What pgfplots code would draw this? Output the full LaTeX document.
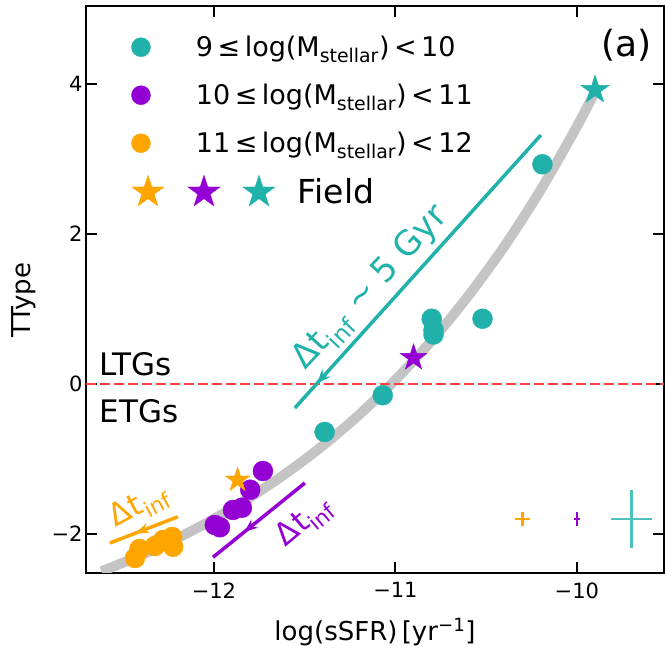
\documentclass[border=0pt]{standalone}
\usepackage{fontspec}
\setmainfont{DejaVu Sans}
\usepackage{pgfplots}
\pgfplotsset{compat=1.18}
\usetikzlibrary{decorations.markings,arrows.meta}

\definecolor{tealc}{HTML}{20B2AA}
\definecolor{purplec}{HTML}{9400D3}
\definecolor{orangec}{HTML}{FFA500}
\definecolor{curvegray}{HTML}{C4C4C4}
\definecolor{redline}{HTML}{FF4040}

% filled five-point star
\pgfdeclareplotmark{fstar}{%
  \pgfpathmoveto{\pgfpointpolar{90}{\pgfplotmarksize}}%
  \pgfpathlineto{\pgfpointpolar{126}{0.382\pgfplotmarksize}}%
  \pgfpathlineto{\pgfpointpolar{162}{\pgfplotmarksize}}%
  \pgfpathlineto{\pgfpointpolar{198}{0.382\pgfplotmarksize}}%
  \pgfpathlineto{\pgfpointpolar{234}{\pgfplotmarksize}}%
  \pgfpathlineto{\pgfpointpolar{270}{0.382\pgfplotmarksize}}%
  \pgfpathlineto{\pgfpointpolar{306}{\pgfplotmarksize}}%
  \pgfpathlineto{\pgfpointpolar{342}{0.382\pgfplotmarksize}}%
  \pgfpathlineto{\pgfpointpolar{18}{\pgfplotmarksize}}%
  \pgfpathlineto{\pgfpointpolar{54}{0.382\pgfplotmarksize}}%
  \pgfpathclose
  \pgfusepathqfillstroke}

\newcommand\legstar[2]{% x offset, colour
  \begin{scope}[shift={(#1,0pt)}]\color{#2}\pgfsetlinewidth{0.4pt}%
  \pgfsetplotmarksize{17pt}\pgfuseplotmark{fstar}\end{scope}}

\tikzset{
  arrowmid/.style 2 args={postaction={decorate}, decoration={markings,
      mark=at position #1 with {\arrow{Stealth[length=#2, width=0.8*#2]}}}},
}

\begin{document}
\begin{tikzpicture}
\path[use as bounding box] (0,0) rectangle (665pt,648pt);
\begin{axis}[
  at={(86pt,75pt)}, anchor=south west,
  width=578pt, height=567pt, scale only axis,
  xmin=-12.705, xmax=-9.52, ymin=-2.52, ymax=5.04,
  xtick={-12,-11,-10}, xticklabels={−12,−11,−10},
  ytick={-2,0,2,4}, yticklabels={−2,0,2,4},
  tick align=inside, major tick length=11pt,
  every tick/.style={black, line width=2pt},
  axis line style={line width=2.5pt},
  tick label style={font=\fontsize{21}{21}\selectfont},
  xticklabel style={yshift=-6pt},
  label style={font=\fontsize{26}{26}\selectfont},
  xlabel={log(sSFR)\,[yr\textsuperscript{−1}]},
  ylabel={TType},
  xlabel style={at={(axis description cs:0.5,-0.104)}, anchor=center},
  ylabel style={at={(axis description cs:-0.108,0.481)}, anchor=center},
  every mark/.append style={line width=0.4pt},
  legend cell align=left,
  legend style={at={(axis description cs:0.078,0.970)}, anchor=north west,
    draw=none, fill=none, inner sep=0pt, row sep=0pt,
    nodes={inner sep=0pt}, font=\fontsize{27}{27}\selectfont},
]
% legend entries
\addlegendimage{legend image code/.code={\fill[tealc] (0pt,0pt) circle (9.5pt);
  \path[draw=none,fill=none] (-9.5pt,-24pt) rectangle (55pt,24pt);}}
\addlegendentry{9\,≤\,log(M\textsubscript{stellar})\,<\,10}
\addlegendimage{legend image code/.code={\fill[purplec] (0pt,0pt) circle (9.5pt);
  \path[draw=none,fill=none] (-9.5pt,-24pt) rectangle (55pt,24pt);}}
\addlegendentry{10\,≤\,log(M\textsubscript{stellar})\,<\,11}
\addlegendimage{legend image code/.code={\fill[orangec] (0pt,0pt) circle (9.5pt);
  \path[draw=none,fill=none] (-9.5pt,-24pt) rectangle (55pt,24pt);}}
\addlegendentry{11\,≤\,log(M\textsubscript{stellar})\,<\,12}
\addlegendimage{legend image code/.code={\path[draw=none,fill=none] (-9.5pt,-25pt) rectangle (55pt,25pt);
  \begin{scope}[overlay]\legstar{7pt}{orangec}\legstar{63pt}{purplec}\legstar{118pt}{tealc}\end{scope}}}
\addlegendentry{\fontsize{33}{33}\selectfont\hspace*{102pt}Field}

% gray relation
\addplot[curvegray, line width=10pt, smooth, forget plot] coordinates {
  (-12.62,-2.499) (-12.4,-2.280) (-12.2,-2.054) (-12.0,-1.799) (-11.8,-1.511)
  (-11.6,-1.187) (-11.4,-0.822) (-11.2,-0.410) (-11.0,0.055) (-10.8,0.579)
  (-10.6,1.170) (-10.4,1.835) (-10.2,2.586) (-10.0,3.433) (-9.88,3.992)};

% LTG / ETG divide
\addplot[redline, line width=2.2pt, dash pattern=on 10pt off 4pt, forget plot]
  coordinates {(-12.705,0) (-9.52,0)};

% arrows
\addplot[tealc, line width=3.5pt, arrowmid={0.91}{14pt}, forget plot]
  coordinates {(-10.198,3.32) (-11.554,-0.32)};
\addplot[orangec, line width=3.5pt, arrowmid={0.62}{13pt}, forget plot]
  coordinates {(-12.198,-1.77) (-12.573,-2.12)};
\addplot[purplec, line width=3.5pt, arrowmid={0.66}{13pt}, forget plot]
  coordinates {(-11.499,-1.32) (-12.005,-2.31)};

% 11 <= log M < 12
\addplot[only marks, mark=*, mark size=10pt, color=orangec, forget plot] coordinates {
  (-12.435,-2.32) (-12.41,-2.20) (-12.325,-2.16) (-12.28,-2.08)
  (-12.225,-2.17) (-12.23,-2.04)};
% 10 <= log M < 11
\addplot[only marks, mark=*, mark size=10pt, color=purplec, forget plot] coordinates {
  (-11.995,-1.88) (-11.967,-1.91) (-11.895,-1.68) (-11.846,-1.65)
  (-11.80,-1.41) (-11.73,-1.16)};
% 9 <= log M < 10
\addplot[only marks, mark=*, mark size=10pt, color=tealc, forget plot] coordinates {
  (-11.39,-0.64) (-11.07,-0.15) (-10.80,0.87) (-10.79,0.72) (-10.79,0.66)
  (-10.52,0.87) (-10.19,2.93)};

% field galaxies
\addplot[only marks, mark=fstar, mark size=13pt, color=orangec, forget plot]
  coordinates {(-11.87,-1.28)};
\addplot[only marks, mark=fstar, mark size=14pt, color=purplec, forget plot]
  coordinates {(-10.90,0.35)};
\addplot[only marks, mark=fstar, mark size=15pt, color=tealc, forget plot]
  coordinates {(-9.90,3.92)};

% typical uncertainties
\addplot[draw=none, mark=none, forget plot,
  error bars/.cd, x dir=both, x explicit, y dir=both, y explicit,
  error mark=none, error bar style={draw=orangec, line width=2.5pt}]
  coordinates {(-10.30,-1.80) +- (0.04,0.09)};
\addplot[draw=none, mark=none, forget plot,
  error bars/.cd, x dir=both, x explicit, y dir=both, y explicit,
  error mark=none, error bar style={draw=purplec, line width=2.5pt}]
  coordinates {(-10.00,-1.80) +- (0.018,0.09)};
\addplot[draw=none, mark=none, forget plot,
  error bars/.cd, x dir=both, x explicit, y dir=both, y explicit,
  error mark=none, error bar style={draw=tealc!80, line width=2.5pt}]
  coordinates {(-9.70,-1.80) +- (0.113,0.39)};

% annotations
\node[anchor=west, font=\fontsize{31}{31}\selectfont] at (axis cs:-12.65,0.26) {LTGs};
\node[anchor=west, font=\fontsize{31}{31}\selectfont] at (axis cs:-12.65,-0.36) {ETGs};
\node[font=\fontsize{36}{36}\selectfont] at (axis cs:-9.725,4.52) {(a)};
\node[tealc, rotate=47, font=\fontsize{34}{34}\selectfont] at (axis cs:-11.13,1.27)
  {Δt\textsubscript{inf} ∼ 5 Gyr};
\node[orangec, rotate=28, font=\fontsize{31}{31}\selectfont] at (axis cs:-12.41,-1.63)
  {Δt\textsubscript{inf}};
\node[purplec, rotate=40, font=\fontsize{31}{31}\selectfont] at (axis cs:-11.50,-1.84)
  {Δt\textsubscript{inf}};
\end{axis}
\end{tikzpicture}
\end{document}
